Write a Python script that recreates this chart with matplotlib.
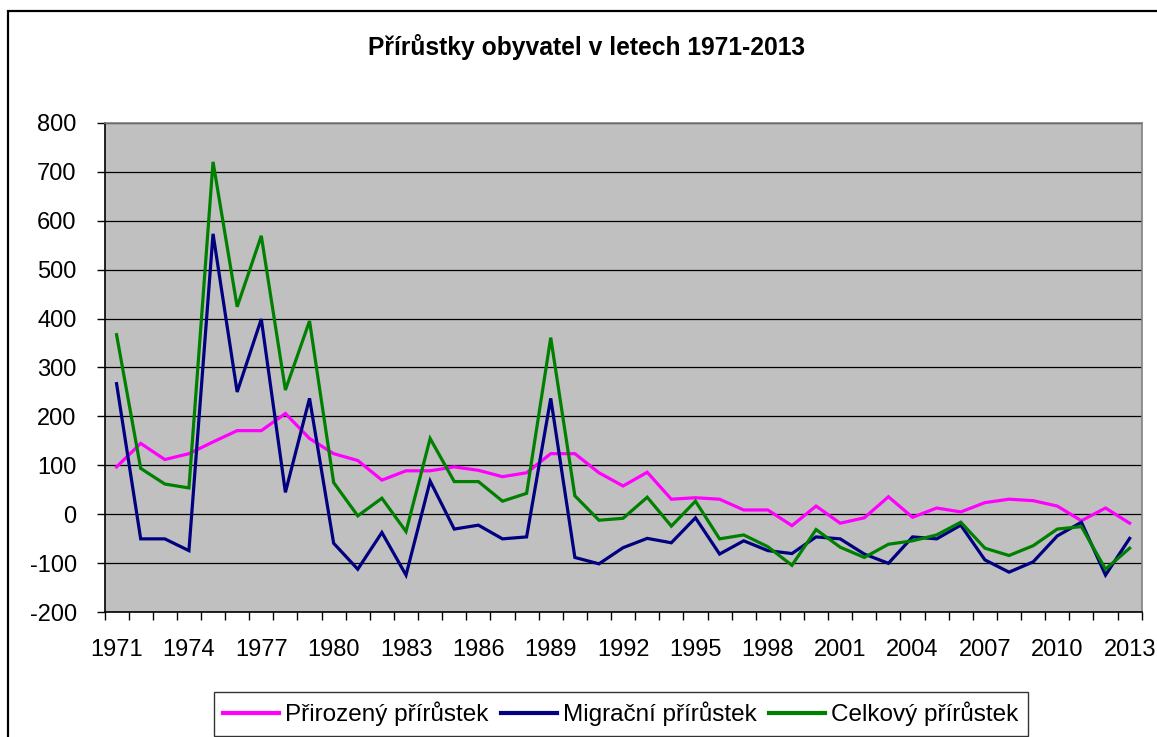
import matplotlib
matplotlib.use('Agg')
import matplotlib.pyplot as plt
from matplotlib.patches import Rectangle
from matplotlib.ticker import FixedLocator, MultipleLocator
import numpy as np

plt.rcParams['font.family'] = ['Liberation Sans', 'DejaVu Sans']
plt.rcParams['axes.unicode_minus'] = False

# roky 1971-2013
years = list(range(1971, 2014))

# hodnoty
prirozeny = [97, 145, 112, 124, 148, 171, 171, 206, 155, 124,
             110, 70, 89, 89, 97, 90, 77, 85, 124, 124,
             85, 58, 86, 31, 34, 31, 9, 9, -23, 17,
             -18, -7, 36, -6, 13, 5, 24, 31, 28, 17,
             -13, 13, -18]
migracni = [267, -50, -50, -74, 573, 250, 399, 45, 237, -59,
            -112, -37, -124, 68, -30, -22, -50, -46, 237, -88,
            -101, -68, -49, -58, -7, -81, -54, -74, -80, -46,
            -50, -81, -100, -46, -50, -22, -93, -118, -97, -44,
            -16, -124, -49]
celkovy = [367, 94, 62, 54, 720, 424, 569, 254, 395, 65,
           -3, 33, -35, 155, 67, 67, 27, 43, 361, 38,
           -12, -8, 35, -24, 27, -50, -42, -66, -104, -31,
           -67, -88, -61, -54, -42, -16, -69, -84, -64, -30,
           -25, -112, -69]

series_names = ['Přirozený přírůstek', 'Migrační přírůstek', 'Celkový přírůstek']
colors = ['#FF00FF', '#000080', '#008000']
label_years = years[::3]

W, H = 1157, 737
fig = plt.figure(figsize=(W / 100, H / 100), dpi=100)
fig.patch.set_facecolor('white')

# rámeček kolem celého grafu
fig.add_artist(Rectangle((8 / W, -0.05), 1.1, 1 - 11 / H + 0.05,
                         transform=fig.transFigure, fill=False,
                         edgecolor='black', linewidth=1.6))

left, right = 104.5 / W, 1141.7 / W
top, bottom = 1 - 122.7 / H, 1 - 612.3 / H
ax = fig.add_axes([left, bottom, right - left, top - bottom])
ax.set_facecolor('#C0C0C0')

for vals, name, c in zip([prirozeny, migracni, celkovy], series_names, colors):
    ax.plot(years, vals, color=c, linewidth=2.3, label=name, solid_joinstyle='miter')

ax.set_xlim(1970.5, 2013.5)
ax.set_ylim(-200, 800)

ax.yaxis.set_major_locator(MultipleLocator(100))
ax.grid(axis='y', color='black', linewidth=0.9)
ax.set_axisbelow(True)

ax.xaxis.set_major_locator(FixedLocator(label_years))
ax.set_xticklabels([str(y) for y in label_years])
ax.xaxis.set_minor_locator(FixedLocator(np.arange(1970.5, 2014, 1)))
ax.tick_params(axis='x', which='major', length=0, pad=19, labelsize=17)
ax.tick_params(axis='x', which='minor', length=6, width=1, direction='out')
ax.tick_params(axis='y', length=6, width=1, direction='out', pad=14, labelsize=17)

for s in ['left', 'bottom']:
    ax.spines[s].set_color('black')
    ax.spines[s].set_linewidth(1.2)
for s in ['right', 'top']:
    ax.spines[s].set_color('#808080')
    ax.spines[s].set_linewidth(1.2)

fig.text(586 / W, 1 - 47 / H, 'Přírůstky obyvatel v letech 1971-2013',
         ha='center', va='center', fontsize=17.7, fontweight='bold')

leg = fig.legend(loc='upper center', bbox_to_anchor=(620.7 / W, 1 - 692 / H),
                 ncol=3, fontsize=17.5, frameon=True, fancybox=False,
                 edgecolor='black', handlelength=2.3, handletextpad=0.25,
                 columnspacing=0.5, borderpad=0.4, borderaxespad=0)
leg.get_frame().set_linewidth(1.0)
for line in leg.get_lines():
    line.set_linewidth(3)

fig.savefig('out.png', dpi=100)
